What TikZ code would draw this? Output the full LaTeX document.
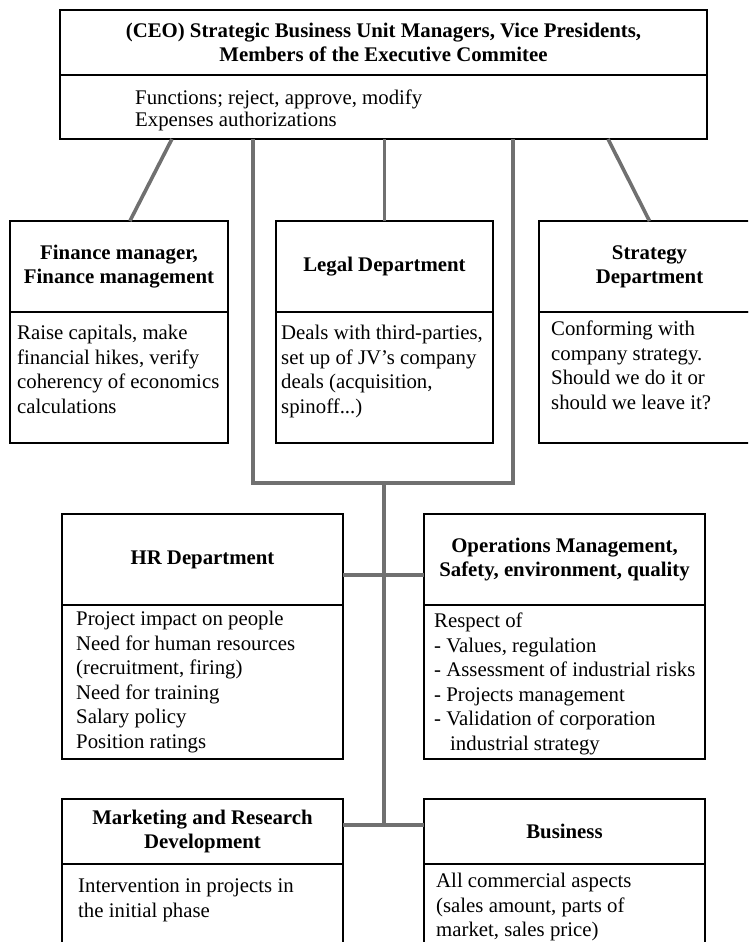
\documentclass[tikz,border=0pt]{standalone}
\usepackage{fontspec}
\setmainfont{Liberation Serif}
\usetikzlibrary{calc}

\definecolor{linkgray}{RGB}{112,112,112}
\newcommand\boxheadfont{\fontsize{20.8}{24}\selectfont\bfseries}
\newcommand\boxbodyfont{\fontsize{20.8}{24.5}\selectfont}

\tikzset{
  head/.style={draw, fill=white, line width=1.8pt, outer sep=0pt, inner sep=0pt,
    align=center, font=\boxheadfont},
  body/.style={draw, fill=white, line width=1.8pt, outer sep=0pt, inner sep=0pt},
  note/.style={anchor=north west, align=left, inner sep=0pt, font=\boxbodyfont},
  link/.style={draw=linkgray, line width=3.6pt},
}

\begin{document}
\begin{tikzpicture}[x=1pt, y=-1pt]
  % page
  \useasboundingbox (0,0) rectangle (748,942);
  \clip (0,0) rectangle (748,942);

  % top box
  \node[head, minimum width=647pt, minimum height=65pt] (ceo) at (383.5,42.5)
    {(CEO) Strategic Business Unit Managers, Vice Presidents,\\Members of the Executive Commitee};
  \node[body, minimum width=647pt, minimum height=64pt, anchor=north] (ceo-body) at (ceo.south) {};
  \node[note, font=\fontsize{20.8}{22}\selectfont] (ceo-text) at ([shift={(75,15)}]ceo-body.north west)
    {Functions; reject, approve, modify\\Expenses authorizations};

  % first row
  \node[head, minimum width=218pt, minimum height=91pt] (fin) at (119,266.5)
    {Finance manager,\\Finance management};
  \node[body, minimum width=218pt, minimum height=131pt, anchor=north] (fin-body) at (fin.south) {};
  \node[note] (fin-text) at ([shift={(7,13)}]fin-body.north west)
    {Raise capitals, make\\financial hikes, verify\\coherency of economics\\calculations};

  \node[head, minimum width=217pt, minimum height=91pt] (legal) at (384.5,266.5)
    {Legal Department};
  \node[body, minimum width=217pt, minimum height=131pt, anchor=north] (legal-body) at (legal.south) {};
  \node[note] (legal-text) at ([shift={(5,13)}]legal-body.north west)
    {Deals with third-parties,\\set up of JV's company\\deals (acquisition,\\spinoff...)};

  \node[head, minimum width=221pt, minimum height=91pt] (strat) at (649.5,266.5)
    {Strategy\\Department};
  \node[body, minimum width=221pt, minimum height=131pt, anchor=north] (strat-body) at (strat.south) {};
  \node[note] (strat-text) at ([shift={(12,9)}]strat-body.north west)
    {Conforming with\\company strategy.\\Should we do it or\\should we leave it?};

  % second row
  \node[head, minimum width=281pt, minimum height=91pt] (hr) at (202.5,559.5)
    {HR Department};
  \node[body, minimum width=281pt, minimum height=154pt, anchor=north] (hr-body) at (hr.south) {};
  \node[note] (hr-text) at ([shift={(14,6)}]hr-body.north west)
    {Project impact on people\\Need for human resources\\(recruitment, firing)\\Need for training\\Salary policy\\Position ratings};

  \node[head, minimum width=281pt, minimum height=91pt] (ops) at (564.5,559.5)
    {Operations Management,\\Safety, environment, quality};
  \node[body, minimum width=281pt, minimum height=154pt, anchor=north] (ops-body) at (ops.south) {};
  \node[note] (ops-text) at ([shift={(10,8)}]ops-body.north west)
    {Respect of\\- Values, regulation\\- Assessment of industrial risks\\- Projects management\\- Validation of corporation\\\hspace*{16pt}industrial strategy};

  % third row (runs off the page)
  \node[head, minimum width=281pt, minimum height=65pt] (mkt) at (202.5,831.5)
    {Marketing and Research\\Development};
  \node[body, minimum width=281pt, minimum height=110pt, anchor=north] (mkt-body) at (mkt.south) {};
  \node[note] (mkt-text) at ([shift={(16,15)}]mkt-body.north west)
    {Intervention in projects in\\the initial phase};

  \node[head, minimum width=281pt, minimum height=65pt] (biz) at (564.5,831.5)
    {Business};
  \node[body, minimum width=281pt, minimum height=110pt, anchor=north] (biz-body) at (biz.south) {};
  \node[note] (biz-text) at ([shift={(12,9)}]biz-body.north west)
    {All commercial aspects\\(sales amount, parts of\\market, sales price)};

  % links
  \coordinate (hub) at (384,483);
  \coordinate (midA) at (384,575);
  \coordinate (midB) at (384,825);
  \draw[link] ($(ceo-body.south west)!0.173!(ceo-body.south east)$) -- ($(fin.north west)!0.55!(fin.north east)$);
  \draw[link] ($(ceo-body.south west)!0.847!(ceo-body.south east)$) -- (strat.north);
  \draw[link] (legal.north |- ceo-body.south) -- (legal.north);
  \draw[link] ($(ceo-body.south west)!0.298!(ceo-body.south east)$) |- (hub)
    -| ($(ceo-body.south west)!0.7!(ceo-body.south east)$);
  \draw[link] (hub) -- (midB);
  \draw[link] (hr.east |- midA) -- (ops.west |- midA);
  \draw[link] (mkt.east |- midB) -- (biz.west |- midB);
\end{tikzpicture}
\end{document}
